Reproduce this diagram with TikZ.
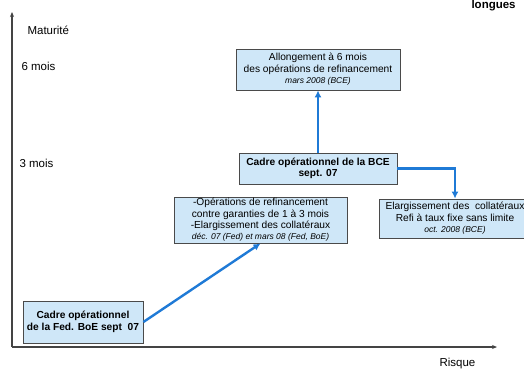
\documentclass[tikz,border=0pt]{standalone}
\usepackage{fontspec}
\setmainfont{Liberation Sans}
\usetikzlibrary{arrows.meta}
\definecolor{boxfill}{HTML}{CFE7F8}
\definecolor{boxline}{HTML}{4A4A4A}
\definecolor{flowblue}{HTML}{1F7AD6}
\definecolor{axisgray}{HTML}{444444}
\newcommand{\datefont}{\itshape\fontsize{8.5}{10}\selectfont}

\begin{document}
\begin{tikzpicture}[x=1pt, y=-1pt,
    stepbox/.style={rectangle, draw=boxline, fill=boxfill, line width=0.8pt, align=center,
      font=\fontsize{10.2}{11.4}\selectfont, inner sep=1pt},
    flow/.style={-{Latex[length=7pt,width=7pt]}, draw=flowblue, line width=2.4pt},
    axis/.style={-{Stealth[length=5pt,width=4pt]}, draw=axisgray, line width=1.2pt},
    axislabel/.style={font=\fontsize{11.5}{13}\selectfont}]
    \useasboundingbox (0,0) rectangle (524,370);

    % Axes
    \coordinate (origin) at (12,347);
    \coordinate (ytip) at (12,12);
    \coordinate (xtip) at (497,347);
    \draw[axis] (origin) -- (ytip);
    \draw[axis] (origin) -- (xtip);
    \node[axislabel, anchor=west] (maturite) at (24,30) {Maturité};
    \node[axislabel, anchor=west] (sixmois) at (18,66) {6 mois};
    \node[axislabel, anchor=west] (troismois) at (16,163) {3 mois};
    \node[axislabel, anchor=west] (risque) at (436,364) {Risque};
    \node[font=\bfseries\fontsize{11.5}{13}\selectfont, anchor=west] (longues) at (468,6) {longues};

    % Fed / BoE
    \node[stepbox, minimum width=120pt, minimum height=42pt] (fedboe) at (83,322)
        {\textbf{Cadre opérationnel}\\\textbf{de la Fed. BoE sept\ \ 07}};
    \node[stepbox, minimum width=173pt, minimum height=46pt] (refifed) at (260.5,220)
        {-Opérations de refinancement\\contre garanties de 1 à 3 mois\\-Elargissement des collatéraux\\
         {\datefont déc. 07 (Fed) et mars 08 (Fed, BoE)}};

    % BCE
    \node[stepbox, minimum width=158pt, minimum height=31pt] (cadrebce) at (318,168.5)
        {\textbf{Cadre opérationnel de la BCE}\\\textbf{sept. 07}};
    \node[stepbox, minimum width=164pt, minimum height=41pt] (allong) at (318,69.5)
        {Allongement à 6 mois\\des opérations de refinancement\\
         {\datefont mars 2008 (BCE)}};
    \node[stepbox, minimum width=152pt, minimum height=39pt] (collat) at (455,218.5)
        {Elargissement des\ \ collatéraux\\Refi à taux fixe sans limite\\
         {\datefont oct. 2008 (BCE)}};

    \draw[flow] (fedboe.east) -- (refifed.south);
    \draw[flow] (cadrebce.north) -- (allong.south);
    \draw[flow] (cadrebce.east) -| (collat.north);
\end{tikzpicture}
\end{document}
